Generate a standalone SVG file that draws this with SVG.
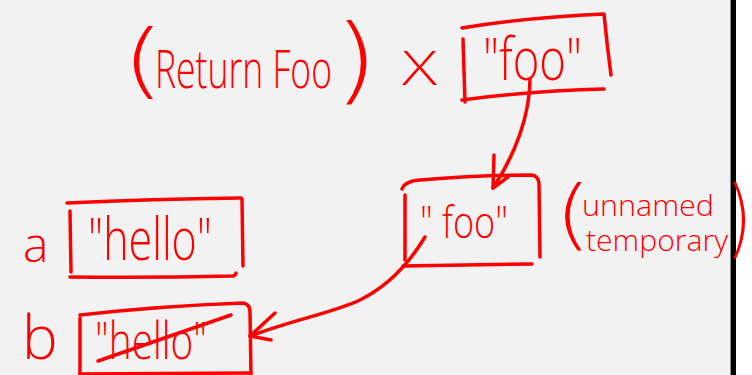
<svg xmlns="http://www.w3.org/2000/svg" width="752" height="375" viewBox="0 0 752 375">
  <style>
    .ink { fill: none; stroke: #ff0000; stroke-width: 3.5; stroke-linecap: round; stroke-linejoin: round; }
    .hand { font-family: "Open Sans", "Liberation Sans", Arial, sans-serif; font-weight: 300; fill: #ff0000; }
    .paren { font-family: "DejaVu Sans", "Liberation Sans", sans-serif; font-weight: 200; fill: #ff0000; }
  </style>

  <!-- canvas, panel border and margin -->
  <rect x="0" y="0" width="752" height="375" fill="#ffffff"/>
  <rect x="0" y="0" width="731" height="375" fill="#f2f2f2"/>
  <rect x="730" y="0" width="1" height="375" fill="#8a8a8a"/>
  <rect x="731" y="0" width="5" height="375" fill="#000000"/>

  <!-- function call: (Return Foo) X -->
  <g id="call">
    <text class="paren" x="122" y="88" font-size="82" textLength="42" lengthAdjust="spacingAndGlyphs">(</text>
    <text class="hand" x="155" y="88" font-size="54" textLength="177" lengthAdjust="spacingAndGlyphs">Return Foo</text>
    <text class="paren" x="334" y="92" font-size="95" textLength="44" lengthAdjust="spacingAndGlyphs">)</text>
    <text class="hand" x="402" y="85" font-size="48" textLength="35" lengthAdjust="spacingAndGlyphs">X</text>
  </g>

  <!-- returned value box -->
  <g id="node-return">
    <path class="ink" d="M462,28 Q530,17 604,14 Q607,45 611,75"/>
    <path class="ink" d="M463,39 L465,102"/>
    <path class="ink" d="M462,100 Q530,91 604,89"/>
    <text class="hand" x="483" y="80" font-size="58" textLength="99" lengthAdjust="spacingAndGlyphs">"foo"</text>
  </g>

  <!-- unnamed temporary box -->
  <g id="node-temp">
    <path class="ink" d="M402,189 Q405,181 420,180 Q480,175 532,175 Q538,176 539,183 L540,257"/>
    <path class="ink" d="M405,195 L405,260"/>
    <path class="ink" d="M403,266 L532,264"/>
    <text class="hand" x="420" y="238" font-size="44" textLength="88" lengthAdjust="spacingAndGlyphs">" foo"</text>
  </g>

  <!-- annotation -->
  <g id="note-temp">
    <text class="paren" x="555" y="240" font-size="76" textLength="36" lengthAdjust="spacingAndGlyphs">(</text>
    <text class="hand" x="582" y="216" font-size="30" textLength="132" lengthAdjust="spacingAndGlyphs">unnamed</text>
    <text class="hand" x="586" y="251" font-size="30" textLength="142" lengthAdjust="spacingAndGlyphs">temporary</text>
    <text class="paren" x="726" y="247" font-size="85" textLength="26" lengthAdjust="spacingAndGlyphs">)</text>
  </g>

  <!-- variable a -->
  <g id="node-a">
    <text class="hand" x="23" y="262" font-size="48">a</text>
    <path class="ink" d="M67,203 Q150,199 241,198"/>
    <path class="ink" d="M242,199 L243,266"/>
    <path class="ink" d="M70,211 L71,272"/>
    <path class="ink" d="M70,277 Q150,278 233,276 Q236,275 236,273"/>
    <text class="hand" x="88" y="260" font-size="58" textLength="124" lengthAdjust="spacingAndGlyphs">"hello"</text>
  </g>

  <!-- variable b, old value struck out -->
  <g id="node-b">
    <text class="hand" x="22" y="359" font-size="60">b</text>
    <path class="ink" d="M80,315 Q160,306 243,303 Q250,304 250,312 L251,376"/>
    <path class="ink" d="M80,318 L80,376"/>
    <path class="ink" d="M80,374 L250,373"/>
    <text class="hand" x="95" y="359" font-size="52" textLength="112" lengthAdjust="spacingAndGlyphs">"hello"</text>
    <path class="ink" d="M98,361 L231,315"/>
  </g>

  <!-- connectors -->
  <g id="connectors">
    <path class="ink" d="M530,79 C530,115 515,155 493,188"/>
    <path class="ink" d="M494,155 L493,188 L508,177"/>
    <path class="ink" d="M425,237 C410,262 390,285 360,300 C335,312 300,318 250,336"/>
    <path class="ink" d="M275,313 L250,336 L271,340"/>
  </g>
</svg>
